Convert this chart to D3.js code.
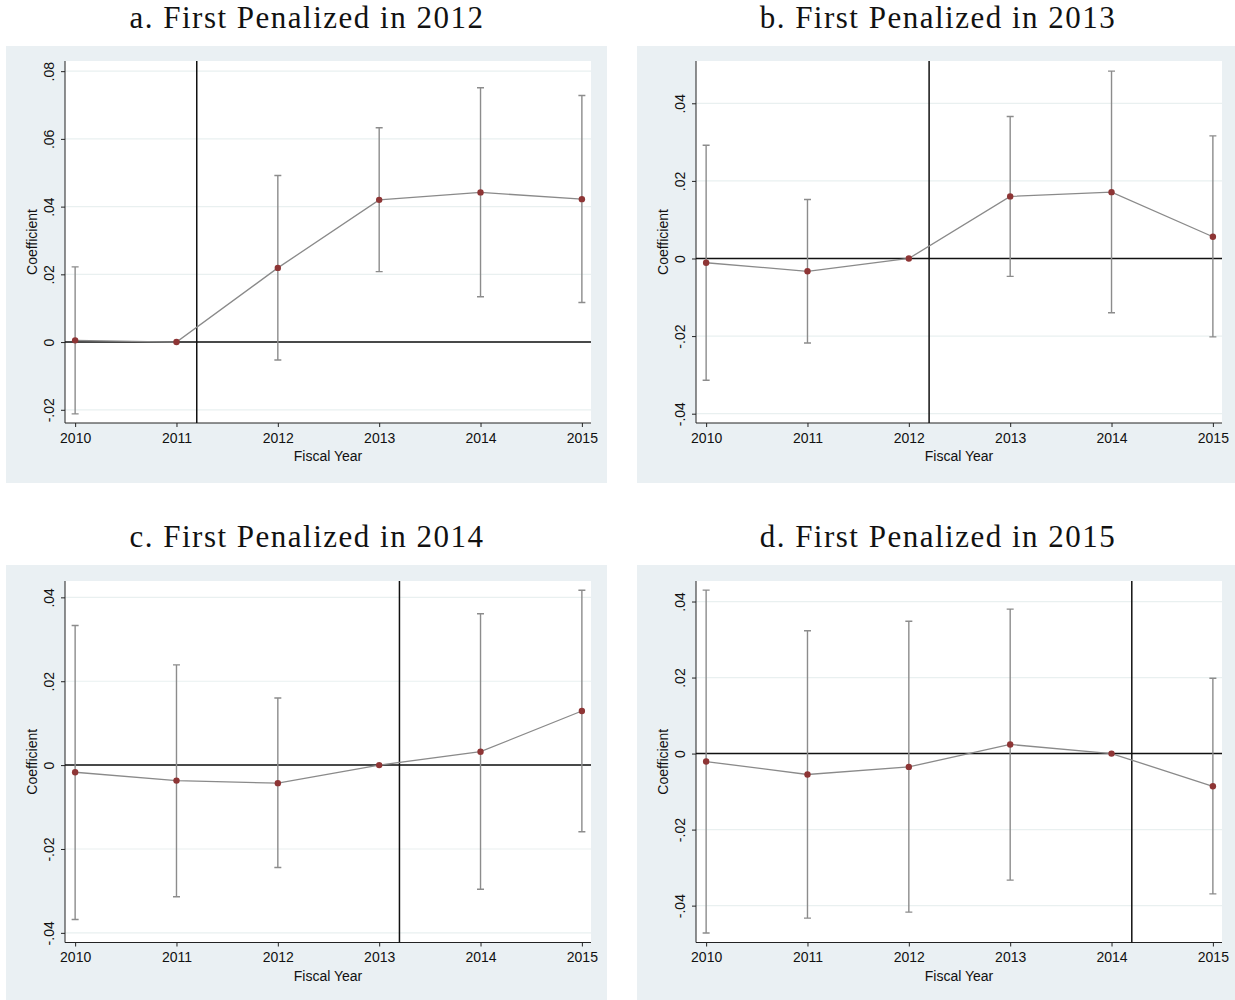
<!DOCTYPE html>
<html>
<head>
<meta charset="utf-8">
<script src="https://cdn.jsdelivr.net/npm/d3@7"></script>
<style>
  body { margin: 0; background: #fff; }
  svg { display: block; }
</style>
</head>
<body>
<div id="content"></div>
<script>
// data
var years = [2010, 2011, 2012, 2013, 2014, 2015];
var titles = ["a. First Penalized in 2012", "b. First Penalized in 2013",
              "c. First Penalized in 2014", "d. First Penalized in 2015"];
var cutYears = [2011.2, 2012.2, 2013.2, 2014.2];

var coefA = [0.0005, 0, 0.0219, 0.0420, 0.0442, 0.0422];
var loA   = [-0.0212, 0, -0.0053, 0.0208, 0.0134, 0.0117];
var hiA   = [0.0222, 0, 0.0492, 0.0633, 0.0751, 0.0728];

var coefB = [-0.0011, -0.0033, 0, 0.0160, 0.0171, 0.0056];
var loB   = [-0.0314, -0.0218, 0, -0.0046, -0.0140, -0.0202];
var hiB   = [0.0292, 0.0152, 0, 0.0366, 0.0483, 0.0316];

var coefC = [-0.0017, -0.0037, -0.0043, 0, 0.0032, 0.0129];
var loC   = [-0.0368, -0.0314, -0.0244, 0, -0.0296, -0.0159];
var hiC   = [0.0333, 0.0239, 0.0160, 0, 0.0361, 0.0417];

var coefD = [-0.0021, -0.0055, -0.0035, 0.0024, 0, -0.0086];
var loD   = [-0.0472, -0.0433, -0.0417, -0.0333, 0, -0.0369];
var hiD   = [0.0430, 0.0323, 0.0348, 0.0380, 0, 0.0198];

var ticksA = [-0.02, 0, 0.02, 0.04, 0.06, 0.08];
var ticksBCD = [-0.04, -0.02, 0, 0.02, 0.04];

var yDomains = [[-0.0239, 0.0830], [-0.0424, 0.0509], [-0.0423, 0.0439], [-0.0497, 0.0454]];

var panels = [
  {coef: coefA, lo: loA, hi: hiA, ticks: ticksA},
  {coef: coefB, lo: loB, hi: hiB, ticks: ticksBCD},
  {coef: coefC, lo: loC, hi: hiC, ticks: ticksBCD},
  {coef: coefD, lo: loD, hi: hiD, ticks: ticksBCD}
];

var bgCol = "#eaf0f3", gridCol = "#e9f0f0", ciCol = "#8c8c8c", dotCol = "#8e3535";

var svg = d3.select("#content").append("svg")
    .attr("width", 1235)
    .attr("height", 1000);

// Stata style: .02, -.02, 0
function fmtTick(v) {
  if (Math.abs(v) < 1e-9) return "0";
  return d3.format(".2f")(v).replace("0.", ".").replace("\u2212", "-");
}

panels.forEach(function(p, i) {
  var col = i % 2, row = Math.floor(i / 2);
  var ox = col * 631, oy = row * 519;
  var g = svg.append("g").attr("transform", "translate(" + ox + "," + oy + ")");

  // background
  g.append("rect")
    .attr("x", 6).attr("y", 46)
    .attr("width", 601).attr("height", 437)
    .attr("fill", bgCol);

  var left = 65, right = 591, top = 61, bottom = 423;
  if (row == 1) { top = 62; bottom = 423.5; }

  g.append("rect")
    .attr("x", left).attr("y", top)
    .attr("width", right - left).attr("height", bottom - top)
    .attr("fill", "#fff");

  // title
  g.append("text")
    .attr("x", 307).attr("y", 28)
    .attr("text-anchor", "middle")
    .style("font-family", "'Liberation Serif', 'Times New Roman', serif")
    .style("font-size", "31px")
    .style("letter-spacing", "1.5px")
    .style("fill", "#111")
    .text(titles[i]);

  var x = d3.scaleLinear().domain([2009.9, 2015.09]).range([left, right]);
  var y = d3.scaleLinear().domain(yDomains[i]).range([bottom, top]);

  // grid
  g.selectAll(".grid").data(p.ticks).enter().append("line")
    .attr("x1", left).attr("x2", right)
    .attr("y1", function(d) { return y(d); })
    .attr("y2", function(d) { return y(d); })
    .attr("stroke", gridCol).attr("stroke-width", 1.2);

  // axes
  var yAxis = d3.axisLeft(y).tickValues(p.ticks).tickFormat(fmtTick).tickSize(4).tickPadding(6);
  var ya = g.append("g").attr("transform", "translate(" + left + ",0)").call(yAxis);
  ya.select(".domain").attr("d", "M0," + top + "V" + bottom).attr("stroke", "#222");
  ya.selectAll(".tick line").attr("stroke", "#222");
  ya.selectAll(".tick text")
    .attr("transform", "rotate(-90)")
    .attr("x", 0).attr("y", -11)
    .attr("dy", 0)
    .attr("text-anchor", "middle")
    .style("font-family", "'Liberation Sans', Arial, sans-serif")
    .style("font-size", "14px")
    .style("fill", "#111");

  var xAxis = d3.axisBottom(x).tickValues(years).tickFormat(d3.format("d")).tickSize(4).tickPadding(6);
  var xa = g.append("g").attr("transform", "translate(0," + bottom + ")").call(xAxis);
  xa.select(".domain").attr("d", "M" + left + ",0H" + right).attr("stroke", "#222");
  xa.selectAll(".tick line").attr("stroke", "#222");
  xa.selectAll(".tick text")
    .style("font-family", "'Liberation Sans', Arial, sans-serif")
    .style("font-size", "14px")
    .style("fill", "#111");

  g.append("text")
    .attr("x", (left + right) / 2).attr("y", bottom + 38)
    .attr("text-anchor", "middle")
    .style("font-family", "'Liberation Sans', Arial, sans-serif")
    .style("font-size", "14px")
    .style("fill", "#111")
    .text("Fiscal Year");

  g.append("text")
    .attr("transform", "translate(" + (left - 28) + "," + ((top + bottom) / 2) + ") rotate(-90)")
    .attr("text-anchor", "middle")
    .style("font-family", "'Liberation Sans', Arial, sans-serif")
    .style("font-size", "14px")
    .style("fill", "#111")
    .text("Coefficient");

  // zero line and treatment line
  g.append("line")
    .attr("x1", left).attr("x2", right)
    .attr("y1", y(0)).attr("y2", y(0))
    .attr("stroke", "#111").attr("stroke-width", 1.5);
  g.append("line")
    .attr("x1", x(cutYears[i])).attr("x2", x(cutYears[i]))
    .attr("y1", top).attr("y2", bottom)
    .attr("stroke", "#111").attr("stroke-width", 1.5);

  // confidence intervals
  var idx = d3.range(years.length).filter(function(k) { return p.hi[k] != p.lo[k]; });
  var ci = g.append("g").attr("stroke", ciCol).attr("stroke-width", 1.4).attr("fill", "none");
  ci.selectAll(".ci").data(idx).enter().append("path")
    .attr("d", function(k) {
      var cx = x(years[k]), y1 = y(p.hi[k]), y2 = y(p.lo[k]);
      return "M" + (cx - 3.5) + "," + y1 + "H" + (cx + 3.5) +
             "M" + cx + "," + y1 + "V" + y2 +
             "M" + (cx - 3.5) + "," + y2 + "H" + (cx + 3.5);
    });

  // connecting line
  var line = d3.line()
    .x(function(d, k) { return x(years[k]); })
    .y(function(d) { return y(d); });
  g.append("path")
    .datum(p.coef)
    .attr("d", line)
    .attr("fill", "none")
    .attr("stroke", "#8a8a8a")
    .attr("stroke-width", 1.3);

  // points
  g.selectAll(".pt").data(p.coef).enter().append("circle")
    .attr("cx", function(d, k) { return x(years[k]); })
    .attr("cy", function(d) { return y(d); })
    .attr("r", 3.2)
    .attr("fill", dotCol);
});
</script>
</body>
</html>
